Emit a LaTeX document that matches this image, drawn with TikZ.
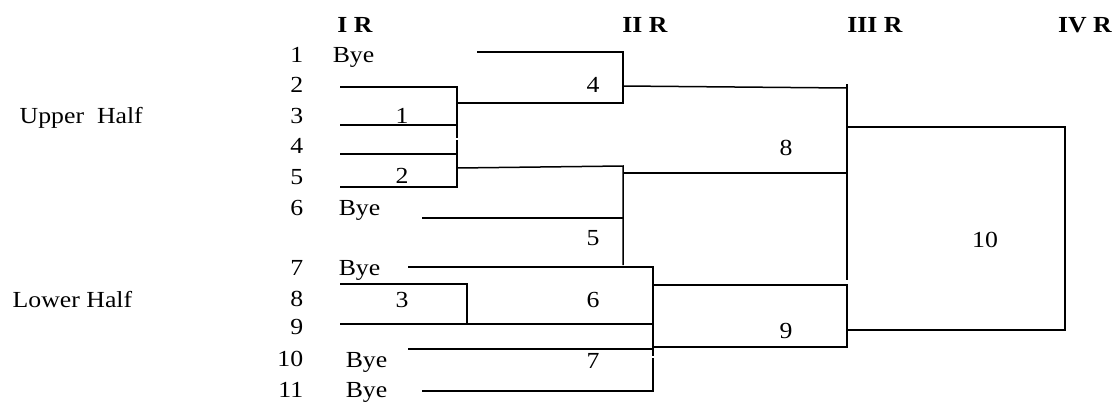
\documentclass[tikz,border=0pt]{standalone}
\usepackage{fontspec}
\setmainfont{Liberation Serif}[FakeStretch=1.12]
\usepackage{tikz}
\usetikzlibrary{positioning}

\newcommand\brfont{\fontsize{11.5}{14}\selectfont}

\begin{document}
\begin{tikzpicture}[
  x=0.5pt, y=-0.5pt, line width=0.75pt,
  every node/.style = {inner sep=0pt, font=\brfont},
  num/.style = {anchor=base east},
  bye/.style = {anchor=base west},
  game/.style = {anchor=base},
  rnd/.style = {anchor=base, font=\brfont\bfseries}
  ]
	\useasboundingbox (0,0) rectangle (1115,402);

	% round headers
	\node[rnd] (r1) at (355,32) {I R};
	\node[rnd] (r2) at (645,32) {II R};
	\node[rnd] (r3) at (875,32) {III R};
	\node[rnd] (r4) at (1085,32) {IV R};

	\node[anchor=base west] (up) at (19,123) {Upper\ \ Half};
	\node[anchor=base west] (low) at (12,307) {Lower Half};

	% entries
	\foreach \n/\y in {1/62,2/92,3/123,4/153,5/184,6/215,7/275,8/306,9/334,10/366,11/397}
		\node[num] (n\n) at (304,\y) {\n};
	\node[bye] (b1) at (332,62) {Bye};
	\node[bye] (b6) at (338,215) {Bye};
	\node[bye] (b7) at (338,275) {Bye};
	\node[bye] (b10) at (345,367) {Bye};
	\node[bye] (b11) at (345,397) {Bye};

	% game numbers
	\node[game] (g1) at (402,123) {1};
	\node[game] (g2) at (402,183) {2};
	\node[game] (g3) at (402,307) {3};
	\node[game] (g4) at (593,92) {4};
	\node[game] (g5) at (593,245) {5};
	\node[game] (g6) at (593,307) {6};
	\node[game] (g7) at (593,368) {7};
	\node[game] (g8) at (786,155) {8};
	\node[game] (g9) at (786,338) {9};
	\node[game] (g10) at (985,247) {10};

	% first round
	\coordinate (@2) at (340,87);
	\coordinate (@3) at (340,125);
	\coordinate (@4) at (340,154);
	\coordinate (@5) at (340,187);
	\coordinate (@8) at (340,284);
	\coordinate (@9) at (340,324);
	\coordinate (m1) at (457,87);
	\coordinate (m1e) at (457,138);
	\coordinate (m2) at (457,140);
	\coordinate (m2e) at (457,187);
	\coordinate (m3) at (467,284);

	\draw (@2) -- (m1) -- (m1e);
	\draw (@3) -- (m1 |- @3);
	\draw (@4) -- (m2 |- @4);
	\draw (m2) -- (m2e) -- (@5);
	\draw (@8) -- (m3) -- (m3 |- @9);

	% second round
	\coordinate (@1) at (477,52);
	\coordinate (@6) at (422,218);
	\coordinate (@7) at (408,267);
	\coordinate (@10) at (408,349);
	\coordinate (@11) at (422,391);
	\coordinate (m4) at (623,52);
	\coordinate (m4e) at (623,103);
	\coordinate (m5) at (623,166);
	\coordinate (m5e) at (623,265);
	\coordinate (m6) at (653,267);
	\coordinate (m6e) at (653,356);
	\coordinate (m7) at (653,358);
	\coordinate (m7e) at (653,391);

	\draw (@1) -- (m4) -- (m4e) -- (m1 |- m4e);
	\draw (m2 |- 0,168) -- (m5) -- (m5e);
	\draw (@6) -- (m5 |- @6);
	\draw (@7) -- (m6) -- (m6e);
	\draw (@9) -- (m6 |- @9);
	\draw (@10) -- (m6 |- @10);
	\draw (@11) -- (m7e) -- (m7);

	% third round
	\coordinate (m8) at (847,84);
	\coordinate (m8e) at (847,280);
	\coordinate (m9) at (847,285);
	\coordinate (m9e) at (847,347);

	\draw (m4 |- 0,86) -- (847,88);
	\draw (m8) -- (m8e);
	\draw (m5 |- 0,173) -- (m8 |- 0,173);
	\draw (m6 |- m9) -- (m9) -- (m9e) -- (m6 |- m9e);

	% final
	\coordinate (m10) at (1065,127);
	\coordinate (m10e) at (1065,330);

	\draw (m8 |- m10) -- (m10) -- (m10e) -- (m9 |- m10e);

\end{tikzpicture}
\end{document}
